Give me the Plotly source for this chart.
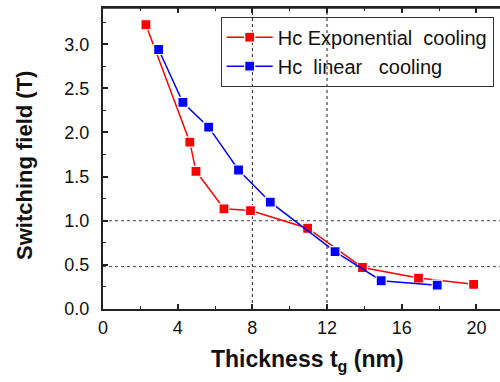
import plotly.graph_objects as go

# Data
exp_x = [2.3, 4.65, 4.98, 6.48, 7.9, 10.96, 13.9, 16.9, 19.85]
exp_y = [3.22, 1.89, 1.56, 1.135, 1.115, 0.915, 0.47, 0.35, 0.28]
lin_x = [2.98, 4.28, 5.66, 7.26, 8.96, 12.43, 14.9, 17.9]
lin_y = [2.94, 2.34, 2.06, 1.575, 1.21, 0.65, 0.32, 0.27]
exp_name = "Hc Exponential\u00a0 cooling"
lin_name = "Hc\u00a0 linear\u00a0\u00a0 cooling"
ref_x = [8, 12]
ref_y = [1.0, 0.48]
x_ticks = [0, 4, 8, 12, 16, 20]
y_ticks = [0.0, 0.5, 1.0, 1.5, 2.0, 2.5, 3.0]

W, H = 500, 382
ML, MR, MT, MB = 103, 0, 8, 73
XMAX = (W - ML - MR) / 18.67
YMAX = 3.41
PW = W - ML - MR
PH = H - MT - MB
BOTTOM = H - MB

fig = go.Figure()
fig.add_trace(go.Scatter(
    x=exp_x, y=exp_y, name=exp_name, mode="lines+markers",
    line=dict(color="#FF0000", width=1.5),
    marker=dict(symbol="square", size=10, color="#FF0000",
                line=dict(color="white", width=1.2)),
))
fig.add_trace(go.Scatter(
    x=lin_x, y=lin_y, name=lin_name, mode="lines+markers",
    line=dict(color="#0000FF", width=1.5),
    marker=dict(symbol="square", size=10, color="#0000FF",
                line=dict(color="white", width=1.2)),
))
# invisible trace for the top axis
fig.add_trace(go.Scatter(x=[0], y=[0], xaxis="x2", mode="markers",
                         marker=dict(opacity=0), showlegend=False, hoverinfo="skip"))

for xv in ref_x:
    fig.add_shape(type="line", xref="x", yref="paper", x0=xv, x1=xv, y0=0, y1=1,
                  line=dict(color="#222222", width=1, dash="3px,3px"), layer="below")
for yv in ref_y:
    fig.add_shape(type="line", xref="paper", yref="y", x0=0, x1=1, y0=yv, y1=yv,
                  line=dict(color="#444444", width=1, dash="3px,3px"), layer="below")
# top frame line
fig.add_shape(type="line", xref="paper", yref="paper", x0=0, x1=1, y0=1, y1=1,
              line=dict(color="#222222", width=1.5), layer="above")

FAM = "Arial, Liberation Sans, sans-serif"
axis_font = dict(family=FAM, size=18, color="#111111")

fig.update_layout(
    width=W, height=H,
    margin=dict(l=ML, r=MR, t=MT, b=MB),
    paper_bgcolor="white", plot_bgcolor="white",
    font=axis_font,
    showlegend=True,
    legend=dict(
        x=(220.7 - ML) / PW, y=(BOTTOM - 16.7) / PH,
        xanchor="left", yanchor="top",
        bgcolor="rgba(0,0,0,0)", bordercolor="#333333", borderwidth=1,
        font=dict(family=FAM, size=20, color="#111111"),
        itemwidth=46, tracegroupgap=0,
    ),
    xaxis=dict(
        range=[0, XMAX], tickvals=x_ticks, ticks="inside", ticklen=5, tickwidth=1.5,
        tickcolor="#222222", showline=True, linecolor="#222222", linewidth=2,
        showgrid=False, zeroline=False, tickfont=axis_font,
        minor=dict(dtick=2, tick0=0, ticks="inside", ticklen=3, tickwidth=1.2, tickcolor="#222222", showgrid=False),
        ticklabelstandoff=1,
    ),
    xaxis2=dict(
        range=[0, XMAX], overlaying="x", side="top", anchor="y",
        tickvals=x_ticks, ticks="inside", ticklen=5, tickwidth=1.5, tickcolor="#222222",
        showline=True, linecolor="#222222", linewidth=1.5, showticklabels=False,
        showgrid=False, zeroline=False,
        minor=dict(dtick=2, tick0=0, ticks="inside", ticklen=3, tickwidth=1.2, tickcolor="#222222", showgrid=False),
    ),
    yaxis=dict(
        range=[0, YMAX], tickvals=y_ticks, ticktext=[f"{v:.1f}" for v in y_ticks],
        ticks="inside", ticklen=5, tickwidth=1.5, tickcolor="#222222",
        showline=True, linecolor="#222222", linewidth=2,
        showgrid=False, zeroline=False, tickfont=axis_font,
        minor=dict(dtick=0.25, tick0=0, ticks="inside", ticklen=3, tickwidth=1.2, tickcolor="#222222", showgrid=False),
        ticklabelstandoff=8,
    ),
)

fig.add_annotation(text="<b>Thickness t<sub>g</sub>\u00a0(nm)</b>", xref="paper", yref="paper",
                   x=(307 - ML) / PW, y=-(360 - BOTTOM) / PH,
                   xanchor="center", yanchor="middle", showarrow=False,
                   font=dict(family=FAM, size=23, color="#111111"))
fig.add_annotation(text="<b>Switching field (T)</b>", xref="paper", yref="paper",
                   x=-(ML - 24) / PW, y=(BOTTOM - 166) / PH,
                   xanchor="center", yanchor="middle", textangle=-90, showarrow=False,
                   font=dict(family=FAM, size=22, color="#111111"))

fig.write_html("out.html", config={"displayModeBar": False},
               post_script="document.body.style.margin='0';document.body.style.padding='0';")
